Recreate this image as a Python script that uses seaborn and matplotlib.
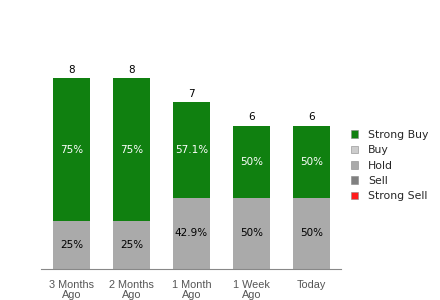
import matplotlib
matplotlib.use("Agg")
import matplotlib.pyplot as plt
import seaborn as sns
import pandas as pd
from matplotlib.patches import Patch

sns.set_style("white")

periods = ["3 Months\nAgo", "2 Months\nAgo", "1 Month\nAgo", "1 Week\nAgo", "Today"]
strong_buy = [6, 6, 4, 3, 3]
buy = [0, 0, 0, 0, 0]
hold = [2, 2, 3, 3, 3]
sell = [0, 0, 0, 0, 0]
strong_sell = [0, 0, 0, 0, 0]

colors = {"Strong Buy": "#108010", "Buy": "#cccccc", "Hold": "#aaaaaa",
          "Sell": "#808080", "Strong Sell": "#ff1a1a"}

df = pd.DataFrame({"period": periods, "Strong Buy": strong_buy, "Buy": buy,
                   "Hold": hold, "Sell": sell, "Strong Sell": strong_sell})
df["total"] = df[["Strong Buy", "Buy", "Hold", "Sell", "Strong Sell"]].sum(axis=1)

fig = plt.figure(figsize=(4.4, 3.0), dpi=100)
ax = fig.add_axes([0.094, 0.103, 0.682, 0.763])

# stack from the bottom: strong sell, sell, hold, buy, strong buy
order = ["Strong Sell", "Sell", "Hold", "Buy", "Strong Buy"]
bottom = pd.Series([0] * len(df))
for name in order:
    sns.barplot(x=df["period"], y=df[name], bottom=bottom, color=colors[name],
                width=0.62, ax=ax, saturation=1, order=periods, linewidth=0)
    for i, v in enumerate(df[name]):
        if v > 0:
            pct = v / df["total"][i] * 100
            txt = f"{pct:.1f}".rstrip("0").rstrip(".") + "%"
            ax.text(i, bottom[i] + v / 2, txt, ha="center", va="center",
                    fontsize=7.5, color="white" if name == "Strong Buy" else "black")
    bottom = bottom + df[name]

for i, t in enumerate(df["total"]):
    ax.text(i, t + 0.15, str(t), ha="center", va="bottom", fontsize=7.5, color="black")

ax.set_xlim(-0.5, 4.5)
ax.set_ylim(0, 9.6)
ax.set_xlabel("")
ax.set_ylabel("")
ax.set_yticks([])
ax.tick_params(axis="x", length=0, pad=8)
for lab in ax.get_xticklabels():
    lab.set_fontfamily("Liberation Sans")
    lab.set_fontsize(7.8)
    lab.set_color("#555555")
    lab.set_linespacing(1.0)
for s in ["top", "left", "right"]:
    ax.spines[s].set_visible(False)
ax.spines["bottom"].set_color("#888888")
ax.spines["bottom"].set_linewidth(0.8)

handles = [Patch(facecolor=colors[n], edgecolor="#888888", linewidth=0.4, label=n)
           for n in ["Strong Buy", "Buy", "Hold", "Sell", "Strong Sell"]]
fig.legend(handles=handles, loc="upper left", bbox_to_anchor=(0.775, 0.6),
           frameon=False, fontsize=7.8, handlelength=0.7, handleheight=0.7,
           handletextpad=0.9, labelspacing=0.5)

fig.savefig("out.png", dpi=100)
